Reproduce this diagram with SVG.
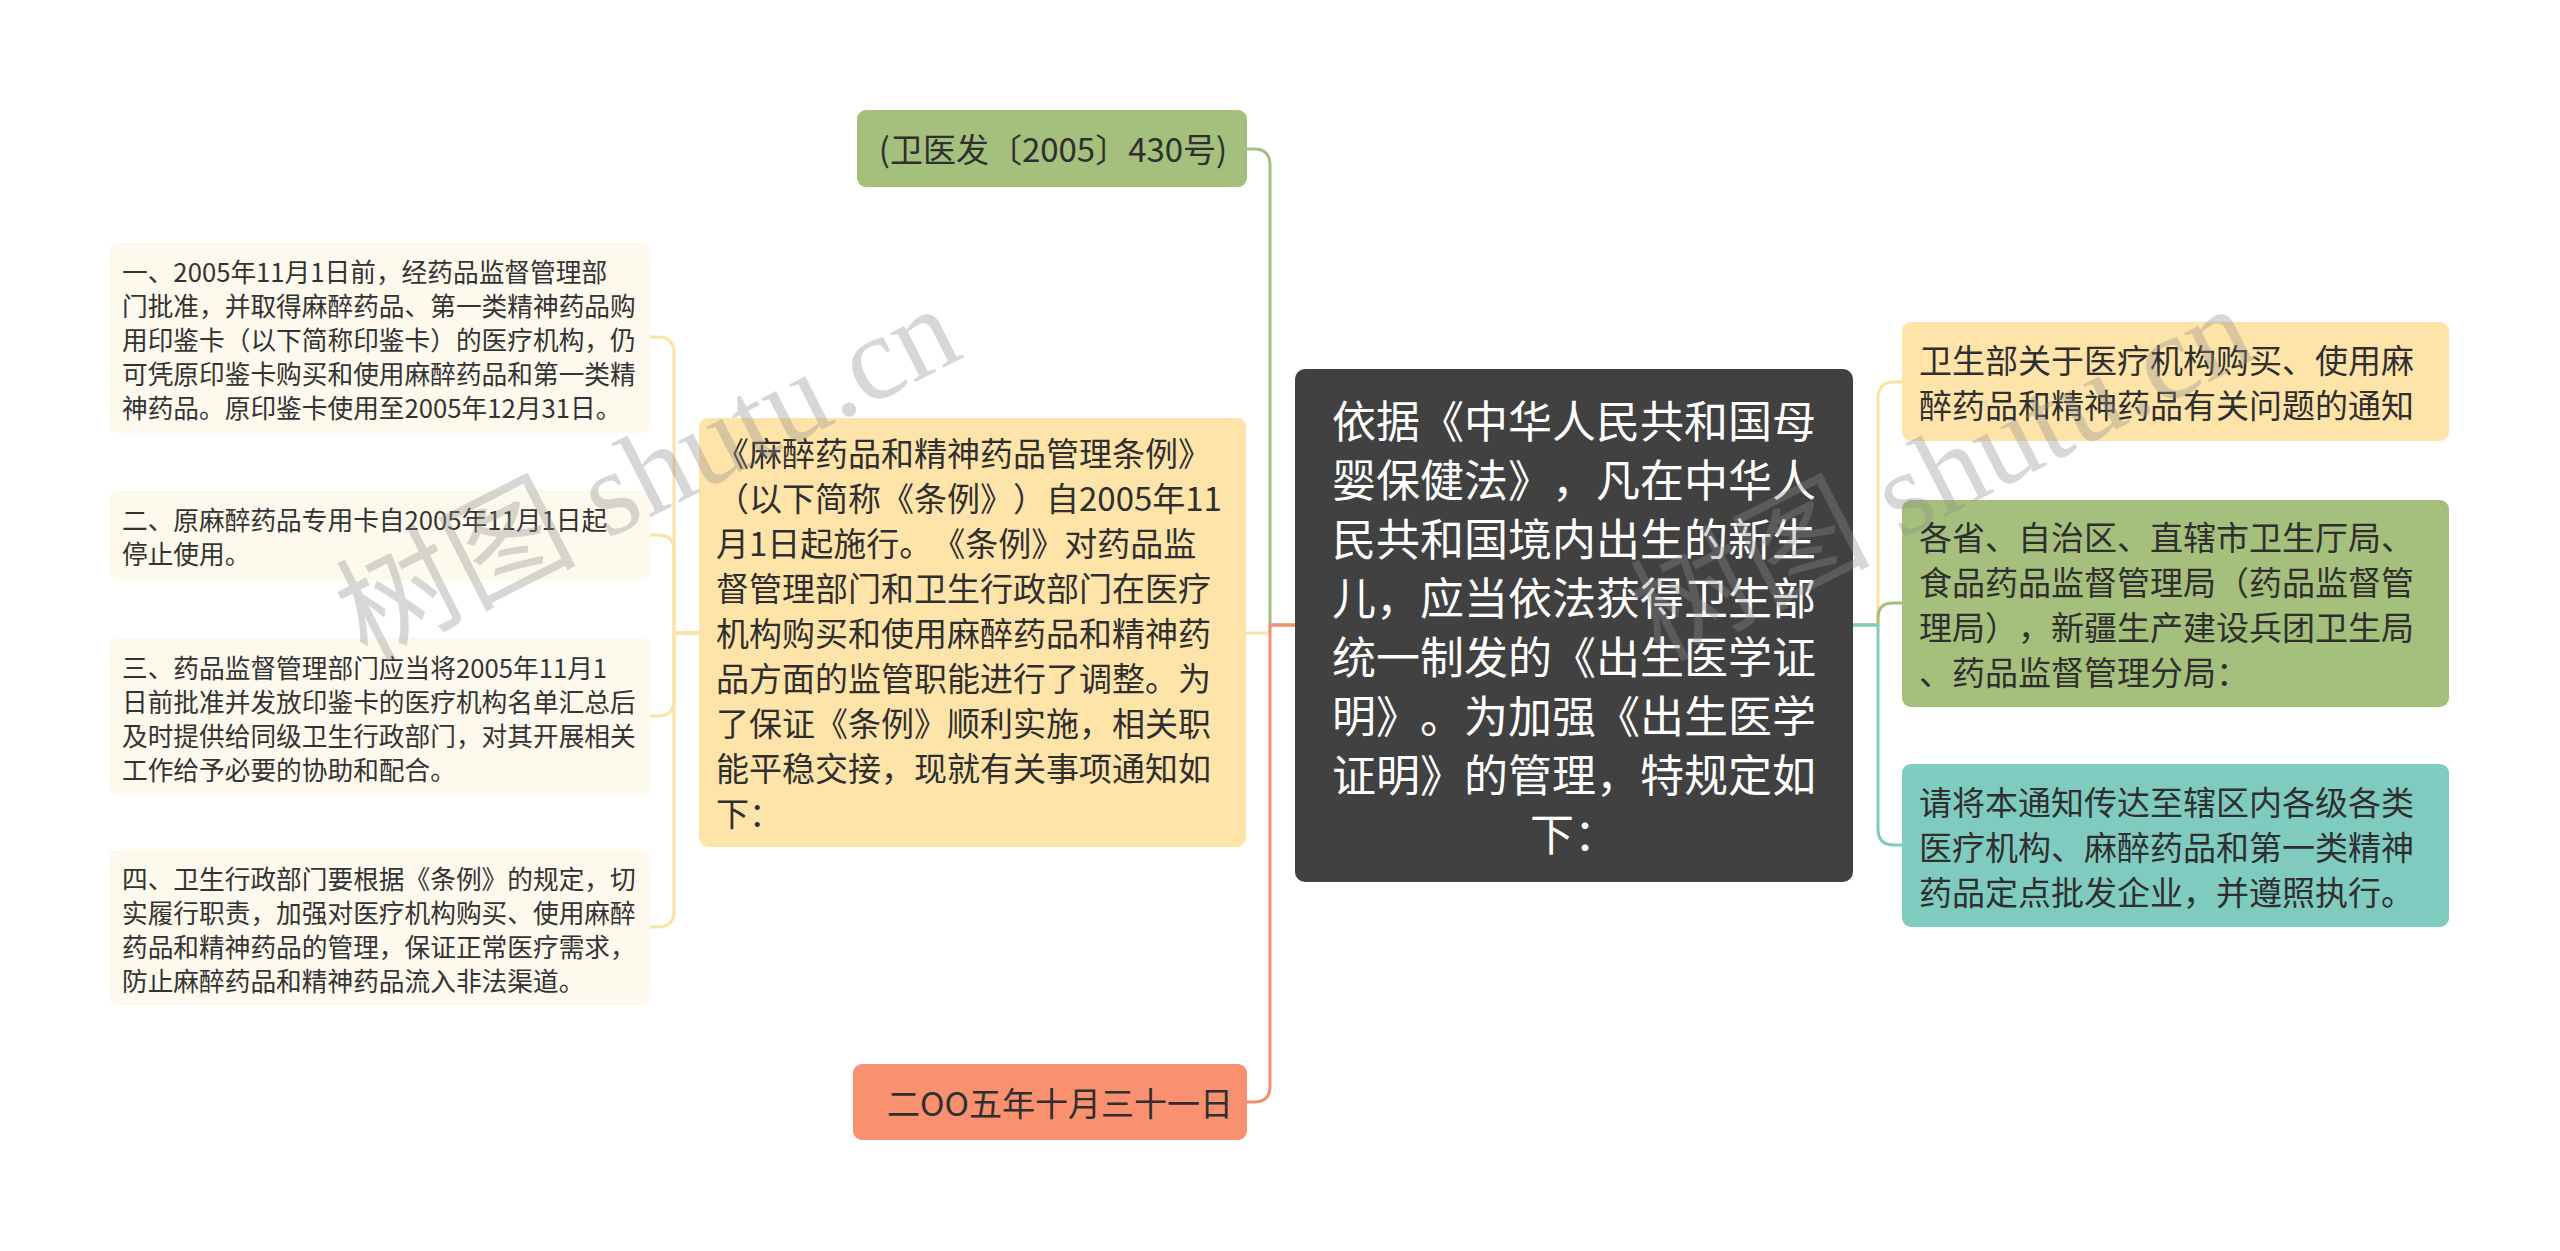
<svg xmlns="http://www.w3.org/2000/svg" width="2560" height="1251" viewBox="0 0 2560 1251">
<style>
text { font-family: "Noto Sans CJK SC", "Noto Sans", sans-serif; dominant-baseline: central; text-spacing-trim: space-all; }
.c { fill: #ffffff; font-size: 44px; text-anchor: middle; }
.t1 { fill: #2f2f2f; font-size: 33px; }
.t2 { fill: #333333; font-size: 25.7px; }
.mid { text-anchor: middle; }
.e { fill: none; stroke-width: 3; stroke-linecap: round; stroke-linejoin: round; }
.yl { stroke: #FBE2A6; }
.gr { stroke: #A5BF7C; }
.or { stroke: #F4906F; }
.te { stroke: #80CBBF; }
.leaf { fill: #FDF9EC; }
.yel { fill: #FFE4A9; }
.grn { fill: #A5BF7C; }
.wm { font-family: "Liberation Serif", "Noto Sans CJK SC", serif; font-size: 120px; fill: #8c8c8c; fill-opacity: 0.35; dominant-baseline: alphabetic; }
</style>
<rect width="2560" height="1251" fill="#ffffff"/>
<g id="connectors">
  <path class="e yl" d="M1295 625 H1272 Q1270 625 1270 627 V631 Q1270 633 1268 633 H1246"/>
  <path class="e gr" d="M1295 625 H1270 V165 Q1270 149 1254 149 H1247"/>
  <path class="e or" d="M1295 625 H1270 V1086 Q1270 1102 1254 1102 H1247"/>
  <path class="e yl" d="M699 633 H674 V353 Q674 337 658 337 H650"/>
  <path class="e yl" d="M699 633 H674 V551 Q674 535 658 535 H650"/>
  <path class="e yl" d="M699 633 H674 V700 Q674 716 658 716 H650"/>
  <path class="e yl" d="M699 633 H674 V911 Q674 927 658 927 H650"/>
  <path class="e yl" d="M1853 625 H1878 V398 Q1878 382 1894 382 H1902"/>
  <path class="e gr" d="M1853 625 H1878 V618 Q1878 603 1893 603 H1902"/>
  <path class="e te" d="M1853 625 H1878 V829 Q1878 845 1894 845 H1902"/>
</g>
<g id="central">
  <rect x="1295" y="369" width="558" height="513" rx="10" fill="#414141"/>
  <text class="c" x="1574" y="419">依据《中华人民共和国母</text>
  <text class="c" x="1574" y="478">婴保健法》，凡在中华人</text>
  <text class="c" x="1574" y="537">民共和国境内出生的新生</text>
  <text class="c" x="1574" y="596">儿，应当依法获得卫生部</text>
  <text class="c" x="1574" y="655">统一制发的《出生医学证</text>
  <text class="c" x="1574" y="714">明》。为加强《出生医学</text>
  <text class="c" x="1574" y="773">证明》的管理，特规定如</text>
  <text class="c" x="1574" y="832">下：</text>
</g>
<g id="top">
  <rect x="857" y="110" width="390" height="77" rx="9" class="grn"/>
  <text class="t1 mid" x="1053" y="148">(卫医发〔2005〕430号)</text>
</g>
<g id="bottom">
  <rect x="853" y="1064" width="394" height="76" rx="9" fill="#F9906F"/>
  <text class="t1 mid" x="1060" y="1102">二OO五年十月三十一日</text>
</g>
<g id="regulation">
  <rect x="699" y="418" width="547" height="429" rx="9" class="yel"/>
  <text class="t1" x="716" y="452">《麻醉药品和精神药品管理条例》</text>
  <text class="t1" x="716" y="497">（以下简称《条例》）自2005年11</text>
  <text class="t1" x="716" y="542">月1日起施行。《条例》对药品监</text>
  <text class="t1" x="716" y="587">督管理部门和卫生行政部门在医疗</text>
  <text class="t1" x="716" y="632">机构购买和使用麻醉药品和精神药</text>
  <text class="t1" x="716" y="677">品方面的监管职能进行了调整。为</text>
  <text class="t1" x="716" y="722">了保证《条例》顺利实施，相关职</text>
  <text class="t1" x="716" y="767">能平稳交接，现就有关事项通知如</text>
  <text class="t1" x="716" y="812">下：</text>
</g>
<g id="item1">
  <rect x="109" y="242" width="541" height="191" rx="9" class="leaf"/>
  <text class="t2" x="122" y="270">一、2005年11月1日前，经药品监督管理部</text>
  <text class="t2" x="122" y="304">门批准，并取得麻醉药品、第一类精神药品购</text>
  <text class="t2" x="122" y="338">用印鉴卡（以下简称印鉴卡）的医疗机构，仍</text>
  <text class="t2" x="122" y="372">可凭原印鉴卡购买和使用麻醉药品和第一类精</text>
  <text class="t2" x="122" y="406">神药品。原印鉴卡使用至2005年12月31日。</text>
</g>
<g id="item2">
  <rect x="109" y="490" width="541" height="90" rx="9" class="leaf"/>
  <text class="t2" x="122" y="518">二、原麻醉药品专用卡自2005年11月1日起</text>
  <text class="t2" x="122" y="552">停止使用。</text>
</g>
<g id="item3">
  <rect x="109" y="638" width="541" height="157" rx="9" class="leaf"/>
  <text class="t2" x="122" y="666">三、药品监督管理部门应当将2005年11月1</text>
  <text class="t2" x="122" y="700">日前批准并发放印鉴卡的医疗机构名单汇总后</text>
  <text class="t2" x="122" y="734">及时提供给同级卫生行政部门，对其开展相关</text>
  <text class="t2" x="122" y="768">工作给予必要的协助和配合。</text>
</g>
<g id="item4">
  <rect x="109" y="849" width="541" height="157" rx="9" class="leaf"/>
  <text class="t2" x="122" y="877">四、卫生行政部门要根据《条例》的规定，切</text>
  <text class="t2" x="122" y="911">实履行职责，加强对医疗机构购买、使用麻醉</text>
  <text class="t2" x="122" y="945">药品和精神药品的管理，保证正常医疗需求，</text>
  <text class="t2" x="122" y="979">防止麻醉药品和精神药品流入非法渠道。</text>
</g>
<g id="title">
  <rect x="1902" y="322" width="547" height="119" rx="9" class="yel"/>
  <text class="t1" x="1919" y="359">卫生部关于医疗机构购买、使用麻</text>
  <text class="t1" x="1919" y="404">醉药品和精神药品有关问题的通知</text>
</g>
<g id="recipients">
  <rect x="1902" y="500" width="547" height="207" rx="9" class="grn"/>
  <text class="t1" x="1919" y="536">各省、自治区、直辖市卫生厅局、</text>
  <text class="t1" x="1919" y="581">食品药品监督管理局（药品监督管</text>
  <text class="t1" x="1919" y="626">理局），新疆生产建设兵团卫生局</text>
  <text class="t1" x="1919" y="671">、药品监督管理分局：</text>
</g>
<g id="instruction">
  <rect x="1902" y="764" width="547" height="163" rx="9" fill="#80CBBF"/>
  <text class="t1" x="1919" y="801">请将本通知传达至辖区内各级各类</text>
  <text class="t1" x="1919" y="846">医疗机构、麻醉药品和第一类精神</text>
  <text class="t1" x="1919" y="891">药品定点批发企业，并遵照执行。</text>
</g>
<g id="watermark">
  <text class="wm" transform="translate(366,662) rotate(-27)">树图 shutu.cn</text>
  <text class="wm" transform="translate(1660,662) rotate(-27)">树图 shutu.cn</text>
</g>
</svg>
